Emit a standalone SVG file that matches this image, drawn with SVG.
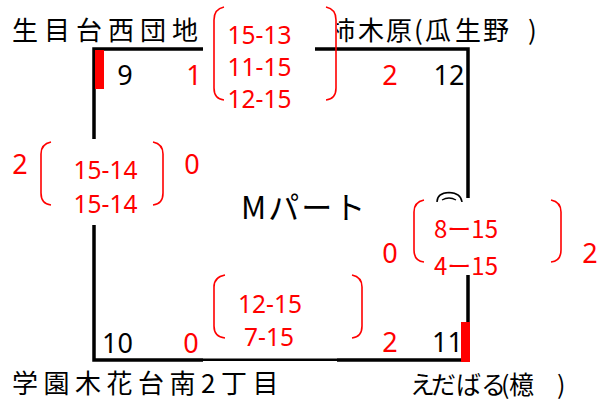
<svg xmlns="http://www.w3.org/2000/svg" width="601" height="405" viewBox="0 0 601 405">
<style>
  .num{font-family:"Noto Sans","Liberation Sans",sans-serif;font-size:27px}
  .red{fill:#FF0000}
  .blk{fill:#000000}
  .sc{font-family:"Noto Sans","Liberation Sans",sans-serif;font-size:24.5px;fill:#FF0000}
  .scj{font-family:"Noto Sans CJK JP","Noto Sans",sans-serif;font-size:24px;fill:#FF0000}
  .jp{font-family:"Noto Sans CJK JP","Noto Sans",sans-serif;font-size:26px;fill:#000000}
  .title{font-family:"Noto Sans CJK JP","Noto Sans",sans-serif;font-size:31px;fill:#000000}
  .jps{font-family:"Noto Sans CJK JP","Noto Sans",sans-serif;font-size:25px;fill:#000000}
  .br{fill:none;stroke:#FF0000;stroke-width:1.6}
  .ln{fill:none;stroke:#000000;stroke-width:3.5;stroke-linejoin:miter;stroke-linecap:butt}
</style>
<defs>
  <clipPath id="clipKaki"><rect x="337" y="0" width="201" height="60"/></clipPath>
</defs>
<rect x="0" y="0" width="601" height="405" fill="#FFFFFF"/>

<g id="connectors">
  <path class="ln" d="M94,139 L94,49 L203,49"/>
  <path class="ln" d="M315,49 L468,49 L468,198"/>
  <path class="ln" d="M94,225 L94,360 L203,360"/>
  <path class="ln" d="M337,360 L468,360 L468,275"/>
  <path fill="none" stroke="#000" stroke-width="2.5" d="M203,359.8 L337,359.8"/>
  <path fill="none" stroke="#000" stroke-width="1.5" d="M437,202 Q437,193 449,192.5 Q461,193 462,202"/>
  <path fill="none" stroke="#000" stroke-width="1.3" d="M442,200 Q449,196 456,200"/>
</g>

<g id="node-title">
  <text class="title" x="241" y="219" letter-spacing="2">Mパート</text>
</g>

<g id="node-9">
  <text class="jp" x="12" y="40" letter-spacing="6">生目台西団地</text>
  <rect x="95" y="50" width="9" height="39" fill="#FF0000"/>
  <text class="num blk" x="125" y="85" text-anchor="middle">9</text>
  <text class="num red" x="194" y="85" text-anchor="middle">1</text>
</g>

<g id="node-12">
  <text class="jp" clip-path="url(#clipKaki)" x="329 358 386 414 425 455 483 528" y="40">柿木原(瓜生野)</text>
  <text class="num red" x="390" y="85" text-anchor="middle">2</text>
  <text class="num blk" x="449" y="85" text-anchor="middle">12</text>
</g>

<g id="node-10">
  <text class="jp" x="12" y="393" letter-spacing="5.5">学園木花台南2丁目</text>
  <text class="num blk" x="117.5" y="353" text-anchor="middle">10</text>
  <text class="num red" x="191" y="353" text-anchor="middle">0</text>
</g>

<g id="node-11">
  <text class="jps" x="410 431 456 481 501 509 557" y="394">えだばる(檍)</text>
  <text class="num red" x="390" y="352" text-anchor="middle">2</text>
  <text class="num blk" x="447.5" y="352" text-anchor="middle">11</text>
  <rect x="461" y="322" width="9" height="40" fill="#FF0000"/>
</g>

<g id="match-top">
  <path class="br" d="M224,7 Q214,9 214,20 L214,88 Q214,99 224,100"/>
  <path class="br" d="M326,7 Q336,9 336,20 L336,88 Q336,99 326,100"/>
  <text class="sc" x="259.5" y="44" text-anchor="middle">15-13</text>
  <text class="sc" x="259.5" y="76" text-anchor="middle">11-15</text>
  <text class="sc" x="259.5" y="107.5" text-anchor="middle">12-15</text>
</g>

<g id="match-left">
  <text class="num red" x="20" y="174" text-anchor="middle">2</text>
  <path class="br" d="M51,142 Q41,144 41,154 L41,193 Q41,204 51,205"/>
  <path class="br" d="M153,142 Q163,144 163,154 L163,193 Q163,204 153,205"/>
  <text class="sc" x="105.5" y="179" text-anchor="middle">15-14</text>
  <text class="sc" x="105.5" y="213" text-anchor="middle">15-14</text>
  <text class="num red" x="192" y="174" text-anchor="middle">0</text>
</g>

<g id="match-right">
  <text class="num red" x="390" y="263" text-anchor="middle">0</text>
  <path class="br" d="M424,200 Q414,202 414,212 L414,250 Q414,261 424,262"/>
  <path class="br" d="M551,200 Q561,202 561,212 L561,250 Q561,261 551,262"/>
  <text class="scj" x="434" y="238">8ー15</text>
  <text class="scj" x="434" y="275">4ー15</text>
  <text class="num red" x="590" y="263" text-anchor="middle">2</text>
</g>

<g id="match-bottom">
  <path class="br" d="M225,275 Q214,277 214,287 L214,326 Q214,337 225,338"/>
  <path class="br" d="M352,275 Q362,277 362,287 L362,326 Q362,337 352,338"/>
  <text class="sc" x="270" y="313" text-anchor="middle">12-15</text>
  <text class="sc" x="269" y="346" text-anchor="middle">7-15</text>
</g>
</svg>
